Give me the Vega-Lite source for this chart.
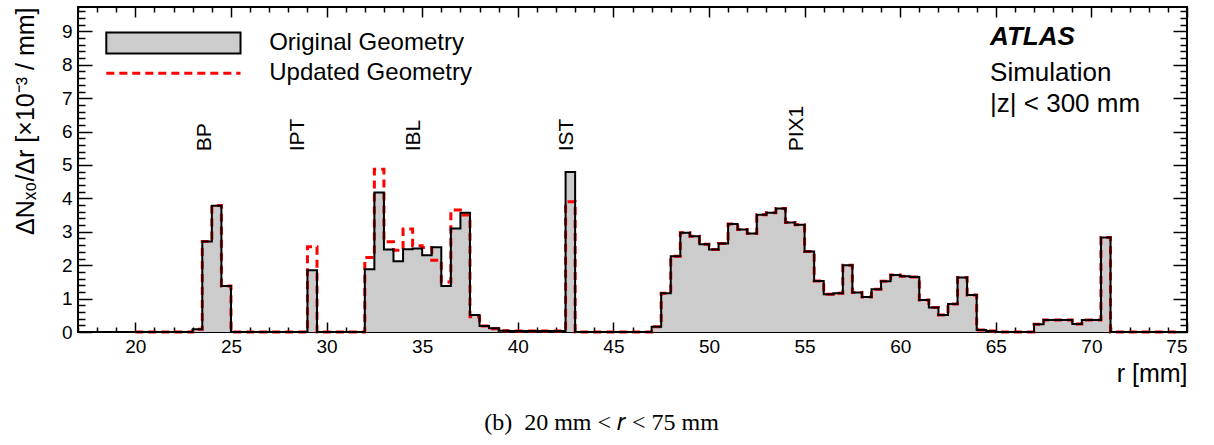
{
  "$schema": "https://vega.github.io/schema/vega-lite/v6.json",
  "width": 1109,
  "height": 325,
  "autosize": {"type": "none"},
  "padding": {"left": 78, "top": 7, "right": 27, "bottom": 113},
  "background": "white",
  "config": {"view": {"stroke": "black", "strokeWidth": 2}, "font": "Liberation Sans"},
  "title": {"text": "(b)\u00a0 20 mm < 𝑟 < 75 mm", "orient": "bottom", "font": "Liberation Serif", "fontSize": 24, "fontWeight": "normal", "color": "black", "anchor": "middle", "dx": -31, "offset": 25},
  "datasets": {
    "hist": [
      {"lo": 20.0, "orig": 0, "upd": 0}, {"lo": 20.5, "orig": 0, "upd": 0}, {"lo": 21.0, "orig": 0, "upd": 0}, {"lo": 21.5, "orig": 0, "upd": 0},
      {"lo": 22.0, "orig": 0, "upd": 0}, {"lo": 22.5, "orig": 0, "upd": 0}, {"lo": 23.0, "orig": 0.08, "upd": 0.08}, {"lo": 23.5, "orig": 2.71, "upd": 2.71},
      {"lo": 24.0, "orig": 3.78, "upd": 3.79}, {"lo": 24.5, "orig": 1.38, "upd": 1.38}, {"lo": 25.0, "orig": 0, "upd": 0}, {"lo": 25.5, "orig": 0, "upd": 0},
      {"lo": 26.0, "orig": 0, "upd": 0}, {"lo": 26.5, "orig": 0, "upd": 0}, {"lo": 27.0, "orig": 0, "upd": 0}, {"lo": 27.5, "orig": 0, "upd": 0},
      {"lo": 28.0, "orig": 0, "upd": 0}, {"lo": 28.5, "orig": 0, "upd": 0}, {"lo": 29.0, "orig": 1.85, "upd": 2.55}, {"lo": 29.5, "orig": 0, "upd": 0},
      {"lo": 30.0, "orig": 0, "upd": 0}, {"lo": 30.5, "orig": 0, "upd": 0}, {"lo": 31.0, "orig": 0, "upd": 0}, {"lo": 31.5, "orig": 0, "upd": 0},
      {"lo": 32.0, "orig": 1.88, "upd": 2.23}, {"lo": 32.5, "orig": 4.18, "upd": 4.87}, {"lo": 33.0, "orig": 2.47, "upd": 2.70}, {"lo": 33.5, "orig": 2.12, "upd": 2.45},
      {"lo": 34.0, "orig": 2.48, "upd": 3.08}, {"lo": 34.5, "orig": 2.50, "upd": 2.58}, {"lo": 35.0, "orig": 2.30, "upd": 2.53}, {"lo": 35.5, "orig": 2.54, "upd": 2.15},
      {"lo": 36.0, "orig": 1.38, "upd": 1.50}, {"lo": 36.5, "orig": 3.10, "upd": 3.65}, {"lo": 37.0, "orig": 3.57, "upd": 3.50}, {"lo": 37.5, "orig": 0.51, "upd": 0.46},
      {"lo": 38.0, "orig": 0.18, "upd": 0.18}, {"lo": 38.5, "orig": 0.11, "upd": 0.10}, {"lo": 39.0, "orig": 0.04, "upd": 0.04}, {"lo": 39.5, "orig": 0.03, "upd": 0.03},
      {"lo": 40.0, "orig": 0.03, "upd": 0.03}, {"lo": 40.5, "orig": 0.03, "upd": 0.03}, {"lo": 41.0, "orig": 0.03, "upd": 0.03}, {"lo": 41.5, "orig": 0.03, "upd": 0.03},
      {"lo": 42.0, "orig": 0.03, "upd": 0.03}, {"lo": 42.5, "orig": 4.79, "upd": 3.90}, {"lo": 43.0, "orig": 0, "upd": 0}, {"lo": 43.5, "orig": 0, "upd": 0},
      {"lo": 44.0, "orig": 0, "upd": 0}, {"lo": 44.5, "orig": 0, "upd": 0}, {"lo": 45.0, "orig": 0, "upd": 0}, {"lo": 45.5, "orig": 0, "upd": 0},
      {"lo": 46.0, "orig": 0, "upd": 0}, {"lo": 46.5, "orig": 0, "upd": 0}, {"lo": 47.0, "orig": 0.16, "upd": 0.16}, {"lo": 47.5, "orig": 1.16, "upd": 1.16},
      {"lo": 48.0, "orig": 2.27, "upd": 2.27}, {"lo": 48.5, "orig": 2.97, "upd": 2.97}, {"lo": 49.0, "orig": 2.87, "upd": 2.87}, {"lo": 49.5, "orig": 2.63, "upd": 2.63},
      {"lo": 50.0, "orig": 2.47, "upd": 2.47}, {"lo": 50.5, "orig": 2.65, "upd": 2.65}, {"lo": 51.0, "orig": 3.23, "upd": 3.23}, {"lo": 51.5, "orig": 3.07, "upd": 3.07},
      {"lo": 52.0, "orig": 2.95, "upd": 2.95}, {"lo": 52.5, "orig": 3.51, "upd": 3.51}, {"lo": 53.0, "orig": 3.57, "upd": 3.57}, {"lo": 53.5, "orig": 3.70, "upd": 3.70},
      {"lo": 54.0, "orig": 3.28, "upd": 3.28}, {"lo": 54.5, "orig": 3.21, "upd": 3.21}, {"lo": 55.0, "orig": 2.41, "upd": 2.41}, {"lo": 55.5, "orig": 1.53, "upd": 1.53},
      {"lo": 56.0, "orig": 1.13, "upd": 1.13}, {"lo": 56.5, "orig": 1.16, "upd": 1.16}, {"lo": 57.0, "orig": 2.00, "upd": 2.00}, {"lo": 57.5, "orig": 1.18, "upd": 1.18},
      {"lo": 58.0, "orig": 1.05, "upd": 1.05}, {"lo": 58.5, "orig": 1.28, "upd": 1.28}, {"lo": 59.0, "orig": 1.52, "upd": 1.52}, {"lo": 59.5, "orig": 1.71, "upd": 1.71},
      {"lo": 60.0, "orig": 1.67, "upd": 1.67}, {"lo": 60.5, "orig": 1.65, "upd": 1.65}, {"lo": 61.0, "orig": 0.96, "upd": 0.96}, {"lo": 61.5, "orig": 0.73, "upd": 0.73},
      {"lo": 62.0, "orig": 0.51, "upd": 0.51}, {"lo": 62.5, "orig": 0.84, "upd": 0.84}, {"lo": 63.0, "orig": 1.63, "upd": 1.63}, {"lo": 63.5, "orig": 1.11, "upd": 1.11},
      {"lo": 64.0, "orig": 0.06, "upd": 0.06}, {"lo": 64.5, "orig": 0.03, "upd": 0.03}, {"lo": 65.0, "orig": 0, "upd": 0}, {"lo": 65.5, "orig": 0, "upd": 0},
      {"lo": 66.0, "orig": 0, "upd": 0}, {"lo": 66.5, "orig": 0, "upd": 0}, {"lo": 67.0, "orig": 0.23, "upd": 0.23}, {"lo": 67.5, "orig": 0.36, "upd": 0.36},
      {"lo": 68.0, "orig": 0.36, "upd": 0.36}, {"lo": 68.5, "orig": 0.36, "upd": 0.36}, {"lo": 69.0, "orig": 0.24, "upd": 0.24}, {"lo": 69.5, "orig": 0.36, "upd": 0.36},
      {"lo": 70.0, "orig": 0.36, "upd": 0.36}, {"lo": 70.5, "orig": 2.83, "upd": 2.83}, {"lo": 71.0, "orig": 0, "upd": 0}, {"lo": 71.5, "orig": 0, "upd": 0},
      {"lo": 72.0, "orig": 0, "upd": 0}, {"lo": 72.5, "orig": 0, "upd": 0}, {"lo": 73.0, "orig": 0, "upd": 0}, {"lo": 73.5, "orig": 0, "upd": 0},
      {"lo": 74.0, "orig": 0, "upd": 0}, {"lo": 74.5, "orig": 0, "upd": 0}
    ],
    "regions": [
      {"r": 23.63, "v": 5.41, "name": "BP"},
      {"r": 28.53, "v": 5.41, "name": "IPT"},
      {"r": 34.55, "v": 5.41, "name": "IBL"},
      {"r": 42.59, "v": 5.41, "name": "IST"},
      {"r": 54.6, "v": 5.41, "name": "PIX1"}
    ],
    "legendBox": [{"r1": 18.48, "r2": 25.5, "v1": 8.34, "v2": 8.97}],
    "legendLine": [{"r1": 18.48, "r2": 25.5, "v": 7.75}],
    "legendText": [
      {"r": 27.0, "v": 8.64, "text": "Original Geometry"},
      {"r": 27.0, "v": 7.75, "text": "Updated Geometry"}
    ],
    "atlas": [{"r": 64.7, "v": 8.82, "text": "ATLAS"}],
    "info": [
      {"r": 64.7, "v": 7.75, "text": "Simulation"},
      {"r": 64.7, "v": 6.82, "text": "|z| < 300 mm"}
    ]
  },
  "resolve": {"axis": {"x": "independent", "y": "independent"}},
  "layer": [
    {
      "data": {"name": "hist"},
      "mark": {"type": "area", "interpolate": "step-after", "color": "#cccccc"},
      "encoding": {
        "x": {"field": "lo", "type": "quantitative", "scale": {"domain": [17, 75], "nice": false, "zero": false},
          "axis": {"orient": "bottom", "values": [17,18,19,20,21,22,23,24,25,26,27,28,29,30,31,32,33,34,35,36,37,38,39,40,41,42,43,44,45,46,47,48,49,50,51,52,53,54,55,56,57,58,59,60,61,62,63,64,65,66,67,68,69,70,71,72,73,74,75],
            "domain": false, "grid": false, "tickColor": "black", "tickWidth": 1.5,
            "tickSize": {"condition": {"test": "datum.value % 5 === 0", "value": -10}, "value": -5},
            "labelExpr": "datum.value % 5 === 0 ? datum.label : ''", "labelFontSize": 19, "labelColor": "black", "labelPadding": 15, "labelFont": "Liberation Sans",
            "title": "r [mm]", "titleFontSize": 25, "titleFontWeight": "normal", "titleColor": "black", "titleFont": "Liberation Sans",
            "titleAnchor": "end", "titleAlign": "right", "titlePadding": 5}},
        "y": {"field": "orig", "type": "quantitative", "scale": {"domain": [0, 9.73], "nice": false},
          "axis": {"orient": "left", "values": [0,0.2,0.4,0.6,0.8,1,1.2,1.4,1.6,1.8,2,2.2,2.4,2.6,2.8,3,3.2,3.4,3.6,3.8,4,4.2,4.4,4.6,4.8,5,5.2,5.4,5.6,5.8,6,6.2,6.4,6.6,6.8,7,7.2,7.4,7.6,7.8,8,8.2,8.4,8.6,8.8,9,9.2,9.4,9.6],
            "domain": false, "grid": false, "tickColor": "black", "tickWidth": 1.5,
            "tickSize": {"condition": {"test": "abs(datum.value - round(datum.value)) < 0.001", "value": -14}, "value": -7},
            "labelExpr": "abs(datum.value - round(datum.value)) < 0.001 ? format(datum.value, 'd') : ''", "labelFontSize": 19, "labelColor": "black", "labelPadding": 20, "labelFont": "Liberation Sans",
            "title": "ΔNₓ₀/Δr [×10⁻³ / mm]", "titleFontSize": 25, "titleFontWeight": "normal", "titleColor": "black", "titleFont": "Liberation Sans",
            "titleAngle": 270, "titleAlign": "right", "titleBaseline": "middle", "titleX": -53, "titleY": 0}}
      }
    },
    {
      "data": {"name": "hist"},
      "mark": {"type": "line", "interpolate": "step-after", "color": "#ff0000", "strokeWidth": 3, "strokeDash": [8, 5]},
      "encoding": {
        "x": {"field": "lo", "type": "quantitative",
          "axis": {"orient": "top", "values": [17,18,19,20,21,22,23,24,25,26,27,28,29,30,31,32,33,34,35,36,37,38,39,40,41,42,43,44,45,46,47,48,49,50,51,52,53,54,55,56,57,58,59,60,61,62,63,64,65,66,67,68,69,70,71,72,73,74,75],
            "domain": false, "grid": false, "labels": false, "title": null, "tickColor": "black", "tickWidth": 1.5,
            "tickSize": {"condition": {"test": "datum.value % 5 === 0", "value": -10}, "value": -5}}},
        "y": {"field": "upd", "type": "quantitative",
          "axis": {"orient": "right", "values": [0,0.2,0.4,0.6,0.8,1,1.2,1.4,1.6,1.8,2,2.2,2.4,2.6,2.8,3,3.2,3.4,3.6,3.8,4,4.2,4.4,4.6,4.8,5,5.2,5.4,5.6,5.8,6,6.2,6.4,6.6,6.8,7,7.2,7.4,7.6,7.8,8,8.2,8.4,8.6,8.8,9,9.2,9.4,9.6],
            "domain": false, "grid": false, "labels": false, "title": null, "tickColor": "black", "tickWidth": 1.5,
            "tickSize": {"condition": {"test": "abs(datum.value - round(datum.value)) < 0.001", "value": -14}, "value": -7}}}
      }
    },
    {
      "data": {"name": "hist"},
      "mark": {"type": "line", "interpolate": "step-after", "color": "black", "strokeWidth": 2},
      "encoding": {
        "x": {"field": "lo", "type": "quantitative", "axis": null},
        "y": {"field": "orig", "type": "quantitative", "axis": null}
      }
    },
    {
      "data": {"name": "legendBox"},
      "mark": {"type": "rect", "fill": "#cccccc", "stroke": "black", "strokeWidth": 2},
      "encoding": {
        "x": {"field": "r1", "type": "quantitative", "axis": null},
        "x2": {"field": "r2"},
        "y": {"field": "v1", "type": "quantitative", "axis": null},
        "y2": {"field": "v2"}
      }
    },
    {
      "data": {"name": "legendLine"},
      "mark": {"type": "rule", "color": "#ff0000", "strokeWidth": 3, "strokeDash": [8, 5]},
      "encoding": {
        "x": {"field": "r1", "type": "quantitative", "axis": null},
        "x2": {"field": "r2"},
        "y": {"field": "v", "type": "quantitative", "axis": null}
      }
    },
    {
      "data": {"name": "legendText"},
      "mark": {"type": "text", "align": "left", "baseline": "middle", "fontSize": 24, "font": "Liberation Sans", "color": "black"},
      "encoding": {
        "x": {"field": "r", "type": "quantitative", "axis": null},
        "y": {"field": "v", "type": "quantitative", "axis": null},
        "text": {"field": "text"}
      }
    },
    {
      "data": {"name": "regions"},
      "mark": {"type": "text", "align": "left", "baseline": "middle", "angle": 270, "fontSize": 21, "font": "Liberation Sans", "color": "black"},
      "encoding": {
        "x": {"field": "r", "type": "quantitative", "axis": null},
        "y": {"field": "v", "type": "quantitative", "axis": null},
        "text": {"field": "name"}
      }
    },
    {
      "data": {"name": "atlas"},
      "mark": {"type": "text", "align": "left", "baseline": "middle", "fontSize": 26, "fontStyle": "italic", "fontWeight": "bold", "font": "Liberation Sans", "color": "black"},
      "encoding": {
        "x": {"field": "r", "type": "quantitative", "axis": null},
        "y": {"field": "v", "type": "quantitative", "axis": null},
        "text": {"field": "text"}
      }
    },
    {
      "data": {"name": "info"},
      "mark": {"type": "text", "align": "left", "baseline": "middle", "fontSize": 26, "font": "Liberation Sans", "color": "black"},
      "encoding": {
        "x": {"field": "r", "type": "quantitative", "axis": null},
        "y": {"field": "v", "type": "quantitative", "axis": null},
        "text": {"field": "text"}
      }
    }
  ]
}
